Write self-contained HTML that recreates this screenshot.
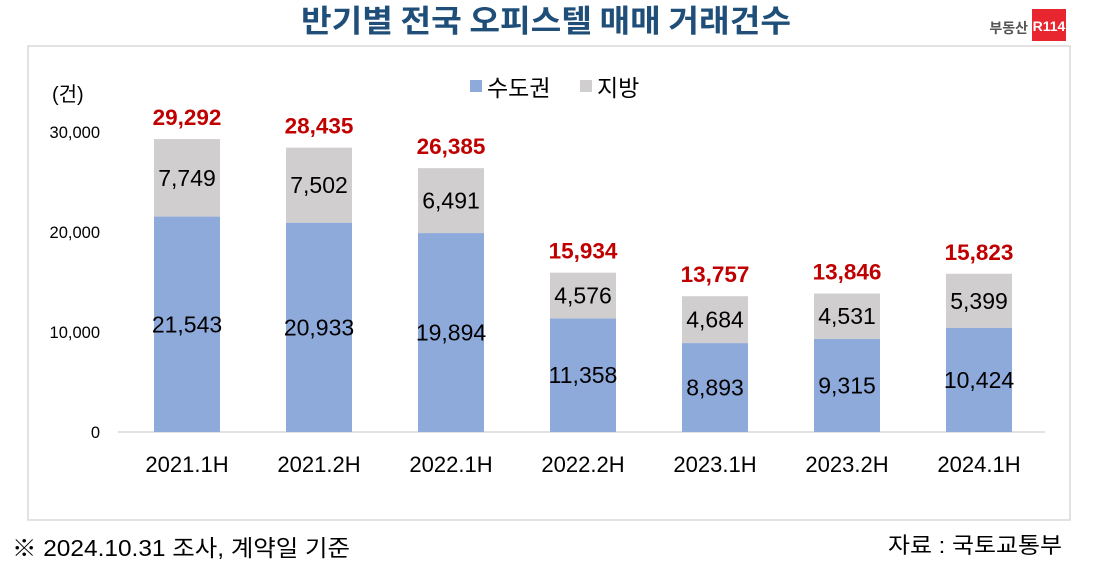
<!DOCTYPE html>
<html><head><meta charset="utf-8"><style>
body{margin:0;background:#fff;}
svg{display:block;font-family:"Liberation Sans","Noto Sans CJK KR",sans-serif;}
</style></head><body>
<svg width="1095" height="571" viewBox="0 0 1095 571">
<text x="546" y="32" text-anchor="middle" font-size="31" font-weight="bold" fill="#1f4e79" font-family="Noto Sans CJK KR,sans-serif" textLength="490" lengthAdjust="spacingAndGlyphs">반기별 전국 오피스텔 매매 거래건수</text>
<text x="1028" y="33" text-anchor="end" font-size="14" font-weight="bold" fill="#555" font-family="Noto Sans CJK KR,sans-serif">부동산</text>
<rect x="1032" y="9" width="34" height="32" fill="#e8262f"/>
<text x="1049" y="31" text-anchor="middle" font-size="14" font-weight="bold" fill="#fff">R114</text>
<rect x="28" y="46" width="1042" height="474" fill="none" stroke="#d9d9d9" stroke-width="1.5"/>
<text x="52" y="101" font-size="20" fill="#000">(건)</text>
<rect x="470" y="80" width="12" height="12" fill="#8eaadb"/>
<text x="487" y="96" font-size="23" fill="#000">수도권</text>
<rect x="580" y="80" width="12" height="12" fill="#d0cece"/>
<text x="597" y="96" font-size="23" fill="#000">지방</text>
<g font-size="16.5" fill="#000" text-anchor="end">
<text x="100" y="138">30,000</text><text x="100" y="238">20,000</text>
<text x="100" y="338">10,000</text><text x="100" y="438">0</text></g>
<line x1="118" y1="432" x2="1045" y2="432" stroke="#d9d9d9" stroke-width="1.5"/>
<g id="bars"></g>
<text x="12" y="556" font-size="23" fill="#000" textLength="338" lengthAdjust="spacingAndGlyphs">※ 2024.10.31 조사, 계약일 기준</text>
<text x="1062" y="553" text-anchor="end" font-size="22" fill="#000" textLength="174" lengthAdjust="spacingAndGlyphs">자료 : 국토교통부</text>
</svg>
<script>
var d=[["2021.1H",21543,7749,"29,292"],["2021.2H",20933,7502,"28,435"],["2022.1H",19894,6491,"26,385"],["2022.2H",11358,4576,"15,934"],["2023.1H",8893,4684,"13,757"],["2023.2H",9315,4531,"13,846"],["2024.1H",10424,5399,"15,823"]];
var g=document.getElementById("bars"),s="";
function f(n){return n.toLocaleString("en-US");}
d.forEach(function(r,i){var c=187+132*i,b=r[1]/100,t=r[2]/100,yb=432-b,yt=yb-t;
s+='<rect x="'+(c-33)+'" y="'+yb+'" width="66" height="'+b+'" fill="#8eaadb"/>';
s+='<rect x="'+(c-33)+'" y="'+yt+'" width="66" height="'+t+'" fill="#d0cece"/>';
s+='<text x="'+c+'" y="'+(yb+b/2+8)+'" text-anchor="middle" font-size="23">'+f(r[1])+'</text>';
s+='<text x="'+c+'" y="'+(yt+t/2+8)+'" text-anchor="middle" font-size="23">'+f(r[2])+'</text>';
s+='<text x="'+c+'" y="'+(yt-14)+'" text-anchor="middle" font-size="22.5" font-weight="bold" fill="#c00000">'+r[3]+'</text>';
s+='<text x="'+c+'" y="472" text-anchor="middle" font-size="22">'+r[0]+'</text>';});
g.innerHTML=s;
</script>
</body></html>
